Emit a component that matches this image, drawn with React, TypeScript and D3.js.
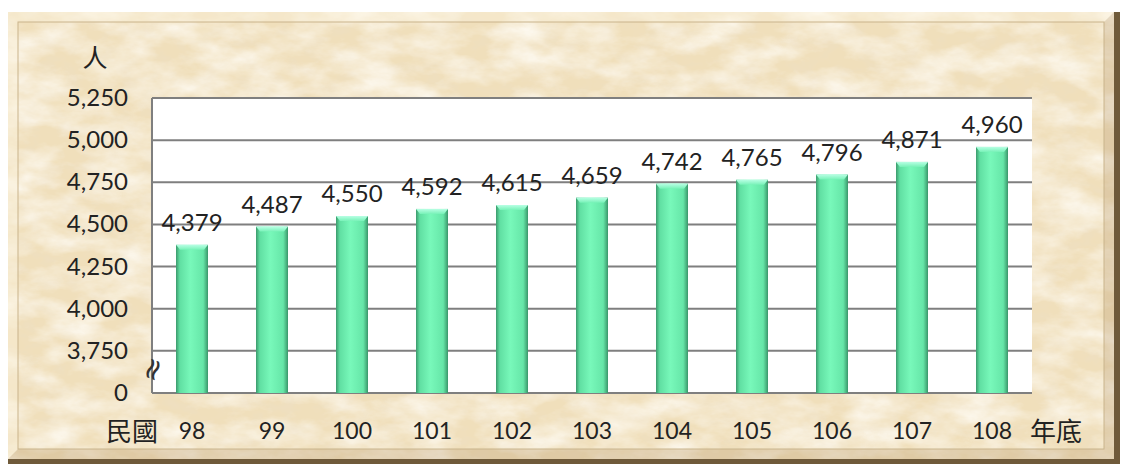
import React from "react";
import * as d3 from "d3";

// 年底人數（民國98-108年）
const years = ["98", "99", "100", "101", "102", "103", "104", "105", "106", "107", "108"];
const people = [4379, 4487, 4550, 4592, 4615, 4659, 4742, 4765, 4796, 4871, 4960];
// y axis is broken: the bottom tick reads 0 but sits where 3,500 would be
const tickValues = [3500, 3750, 4000, 4250, 4500, 4750, 5000, 5250];
const tickLabels = ["0", "3,750", "4,000", "4,250", "4,500", "4,750", "5,000", "5,250"];

const W = 1125;
const H = 466;
const plot = { left: 152, right: 1032, top: 98, bottom: 393 };

const numFont = "Lato, 'Open Sans', sans-serif";
const cjkFont = "'Noto Sans CJK TC', 'Noto Sans CJK SC', sans-serif";

export default function App() {
  const x = d3
    .scaleBand()
    .domain(years)
    .range([plot.left, plot.right])
    .paddingInner(0.6)
    .paddingOuter(0.3);
  const y = d3.scaleLinear().domain([3500, 5250]).range([plot.bottom, plot.top]);
  const fmt = d3.format(",");

  return (
    <svg
      width={W}
      height={H}
      style={{ position: "absolute", left: 0, top: 0, background: "#fff" }}
    >
      <defs>
        <filter id="paper" x="0" y="0" width="100%" height="100%">
          <feTurbulence type="fractalNoise" baseFrequency="0.02 0.04" numOctaves={5} seed={7} result="n" />
          <feColorMatrix
            in="n"
            type="matrix"
            values="0 0 0 0 1  0 0 0 0 0.98  0 0 0 0 0.93  1.6 0 0 0 -0.55"
          />
        </filter>
        <filter id="spots" x="0" y="0" width="100%" height="100%">
          <feTurbulence type="fractalNoise" baseFrequency="0.05 0.08" numOctaves={3} seed={2} result="n" />
          <feColorMatrix
            in="n"
            type="matrix"
            values="0 0 0 0 0.85  0 0 0 0 0.74  0 0 0 0 0.55  0 1.4 0 0 -0.62"
          />
        </filter>
        <linearGradient id="bar" x1="0" x2="1" y1="0" y2="0">
          <stop offset="0" stopColor="#3c9a6c" />
          <stop offset="0.12" stopColor="#60dfa2" />
          <stop offset="0.45" stopColor="#78f8ba" />
          <stop offset="0.85" stopColor="#66e6a8" />
          <stop offset="1" stopColor="#3a966a" />
        </linearGradient>
        <linearGradient id="cap" x1="0" x2="0" y1="0" y2="1">
          <stop offset="0" stopColor="#b8ffe4" />
          <stop offset="1" stopColor="#78f2b8" />
        </linearGradient>
      </defs>

      {/* parchment frame */}
      <rect x={8} y={12} width={1112} height={452} fill="#6f5a3a" />
      <rect x={8} y={12} width={1106} height={447} fill="#f0dfbb" />
      <rect x={8} y={12} width={1106} height={447} filter="url(#spots)" />
      <rect x={8} y={12} width={1106} height={447} filter="url(#paper)" />
      <path d="M8,12 L1114,12 L1104,22 L18,22 L18,449 L8,459 Z" fill="#fbf2dc" opacity={0.45} />
      <path d="M1114,12 L1114,459 L8,459 L18,449 L1104,449 L1104,22 Z" fill="#b89c70" opacity={0.3} />
      <rect x={18} y={22} width={1086} height={427} fill="none" stroke="#c9b48c" strokeWidth={1} />

      {/* plot area */}
      <rect
        x={plot.left}
        y={plot.top}
        width={plot.right - plot.left}
        height={plot.bottom - plot.top}
        fill="#fff"
      />
      {tickValues.map((t) => (
        <line
          key={t}
          x1={plot.left}
          x2={plot.right}
          y1={y(t)}
          y2={y(t)}
          stroke="#7f7f7f"
          strokeWidth={2}
        />
      ))}
      <line x1={plot.left} x2={plot.left} y1={plot.top} y2={plot.bottom} stroke="#7f7f7f" strokeWidth={2} />

      {/* bars */}
      {years.map((yr, i) => {
        const bx = x(yr)!;
        const bw = x.bandwidth();
        const top = y(people[i]);
        return (
          <g key={yr}>
            <rect x={bx} y={top} width={bw} height={plot.bottom - top} fill="url(#bar)" />
            <path
              d={`M${bx},${top} L${bx + bw},${top} L${bx + bw - 4},${top + 5} L${bx + 4},${top + 5} Z`}
              fill="url(#cap)"
            />
            <text
              x={bx + bw / 2}
              y={top - 14}
              textAnchor="middle"
              fontFamily={numFont}
              fontSize={24}
              fill="#222"
            >
              {fmt(people[i])}
            </text>
            <text
              x={bx + bw / 2}
              y={439}
              textAnchor="middle"
              fontFamily={numFont}
              fontSize={23}
              fill="#222"
            >
              {yr}
            </text>
          </g>
        );
      })}

      {/* y ticks */}
      {tickValues.map((t, i) => (
        <text
          key={t}
          x={128}
          y={y(t) + 8}
          textAnchor="end"
          fontFamily={numFont}
          fontSize={24}
          fill="#222"
        >
          {tickLabels[i]}
        </text>
      ))}

      {/* axis break mark */}
      <text
        x={152}
        y={369}
        textAnchor="middle"
        fontFamily="'DejaVu Sans', sans-serif"
        fontSize={30}
        fill="#333"
        transform="rotate(-70 152 369)"
        dominantBaseline="central"
      >
        ≈
      </text>

      <text x={95} y={67} textAnchor="middle" fontFamily={cjkFont} fontSize={25} fill="#222">
        人
      </text>
      <text x={106} y={441} fontFamily={cjkFont} fontSize={26} fill="#222">
        民國
      </text>
      <text x={1030} y={441} fontFamily={cjkFont} fontSize={26} fill="#222">
        年底
      </text>
    </svg>
  );
}
